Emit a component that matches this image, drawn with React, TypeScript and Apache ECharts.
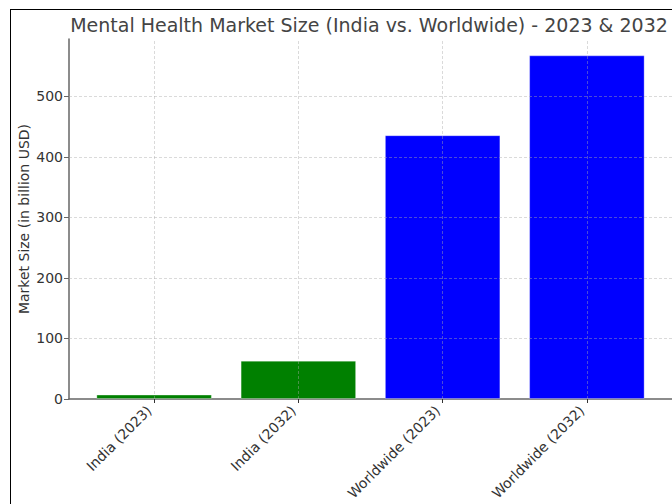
import React, { useEffect, useRef } from "react";
import * as echarts from "echarts";

const categories = ["India (2023)", "India (2032)", "Worldwide (2023)", "Worldwide (2032)"];
const marketSize = [7.3, 63.4, 436, 568];
const barColors = ["#008000", "#008000", "#0000ff", "#0000ff"];
const yTicks = [0, 100, 200, 300, 400, 500];
const xTicks = [0, 1, 2, 3];

const FONT = "DejaVu Sans";

export default function App() {
  const ref = useRef<HTMLDivElement>(null);
  useEffect(() => {
    if (!ref.current) return;
    const chart = echarts.init(ref.current, null, { renderer: "svg" });
    const gridStyle = { type: [3, 2] as any, color: "rgba(170,170,170,0.55)", width: 0.8 };
    chart.setOption({
      animation: false,
      textStyle: { fontFamily: FONT },
      grid: { left: 69, right: 0, top: 39, bottom: 105 },
      graphic: [
        { type: "line", shape: { x1: 10, y1: 9.5, x2: 672, y2: 9.5 }, style: { stroke: "#000", lineWidth: 1 } },
        { type: "line", shape: { x1: 10.5, y1: 9, x2: 10.5, y2: 504 }, style: { stroke: "#000", lineWidth: 1 } },
        {
          type: "text",
          x: 369,
          y: 25,
          style: {
            text: "Mental Health Market Size (India vs. Worldwide) - 2023 & 2032",
            fontFamily: FONT,
            fontSize: 19,
            fill: "#444",
            textAlign: "center",
            textVerticalAlign: "middle",
          },
        },
      ],
      xAxis: {
        type: "value",
        min: -0.59,
        max: 3.59,
        splitLine: { show: false },
        axisLine: { show: true, onZero: false, lineStyle: { color: "#666", width: 1.5 } },
        axisTick: { show: true, length: 4, customValues: xTicks, lineStyle: { color: "#333" } },
        axisLabel: {
          customValues: xTicks,
          rotate: 45,
          verticalAlign: "bottom",
          fontSize: 14,
          color: "#333",
          margin: 14,
          fontFamily: FONT,
          formatter: (v: number) => categories[Math.round(v)] ?? "",
        },
      },
      yAxis: {
        type: "value",
        min: 0,
        max: 595,
        name: "Market Size (in billion USD)",
        nameLocation: "middle",
        nameGap: 38,
        nameMoveOverlap: false,
        nameTextStyle: { fontSize: 14, color: "#333", fontFamily: FONT },
        splitLine: { show: false },
        axisLine: { show: true, onZero: false, lineStyle: { color: "#666", width: 1.5 } },
        axisTick: { show: true, length: 5, customValues: yTicks, lineStyle: { color: "#666" } },
        axisLabel: { customValues: yTicks, fontSize: 14, color: "#333", margin: 6, fontFamily: FONT },
      },
      series: [
        {
          type: "bar",
          barWidth: 115.5,
          data: marketSize.map((v, i) => ({
            value: [i, v],
            itemStyle: { color: barColors[i], borderColor: "rgba(255,255,255,0.3)", borderWidth: 1 },
          })),
          markLine: {
            silent: true,
            symbol: "none",
            label: { show: false },
            lineStyle: gridStyle,
            data: [
              ...yTicks.filter((t) => t > 0).map((t) => ({ yAxis: t })),
              ...xTicks.map((t) => ({ xAxis: t })),
            ],
          },
        },
      ],
    });
    return () => chart.dispose();
  }, []);
  return (
    <div
      ref={ref}
      style={{ position: "fixed", left: 0, top: 0, width: 672, height: 504, background: "#fff" }}
    />
  );
}
